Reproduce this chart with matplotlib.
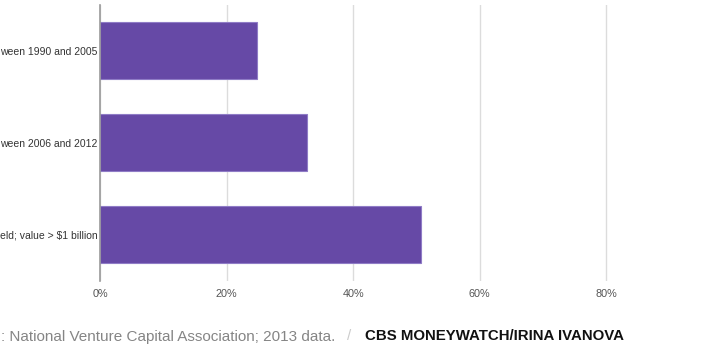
import matplotlib
matplotlib.use("Agg")
import matplotlib.pyplot as plt
from matplotlib.ticker import FuncFormatter

categories = ["ween 1990 and 2005", "ween 2006 and 2012", "eld; value > $1 billion"]
values = [24.8, 32.7, 50.7]
xticks = [0, 20, 40, 60, 80]

fig = plt.figure(figsize=(7.08, 3.54), dpi=100)
ax = fig.add_axes([100/708, (354-281)/354, 608/708, 276/354])

ypos = list(range(len(categories)))
ax.barh(ypos, values, height=0.62, color="#6649a6", edgecolor="#8f7cc6", linewidth=0.8, zorder=3)
ax.set_ylim(2.51, -0.5)
ax.set_xlim(0, 96.1)
ax.set_yticks(ypos)
ax.set_yticklabels(categories, fontsize=7.5, color="#333333", family=["Liberation Sans", "DejaVu Sans"])
ax.set_xticks(xticks)
ax.xaxis.set_major_formatter(FuncFormatter(lambda v, p: f"{int(v)}%"))
for lbl in ax.get_xticklabels():
    lbl.set_fontsize(7.8)
    lbl.set_color("#555555")
    lbl.set_family(["Liberation Sans", "DejaVu Sans"])
ax.tick_params(axis="y", length=0, pad=2)
ax.tick_params(axis="x", length=0, pad=6)
ax.grid(axis="x", color="#dcdcdc", linewidth=1, zorder=0)
for s in ["top", "right", "bottom"]:
    ax.spines[s].set_visible(False)
ax.spines["left"].set_color("#9a9a9a")
ax.spines["left"].set_linewidth(1.2)
ax.spines["left"].set_zorder(4)

ty = 1 - 336.5/354
fig.text(1/708, ty, ": National Venture Capital Association; 2013 data.", fontsize=11,
         color="#858585", va="center", ha="left", family=["Liberation Sans", "DejaVu Sans"])
fig.text(347/708, ty, "/", fontsize=11, color="#cccccc", va="center", ha="left",
         family=["Liberation Sans", "DejaVu Sans"])
fig.text(365/708, ty, "CBS MONEYWATCH/IRINA IVANOVA", fontsize=10.8, fontweight="bold",
         color="#111111", va="center", ha="left", family=["Liberation Sans", "DejaVu Sans"])

fig.savefig("out.png", dpi=100)
